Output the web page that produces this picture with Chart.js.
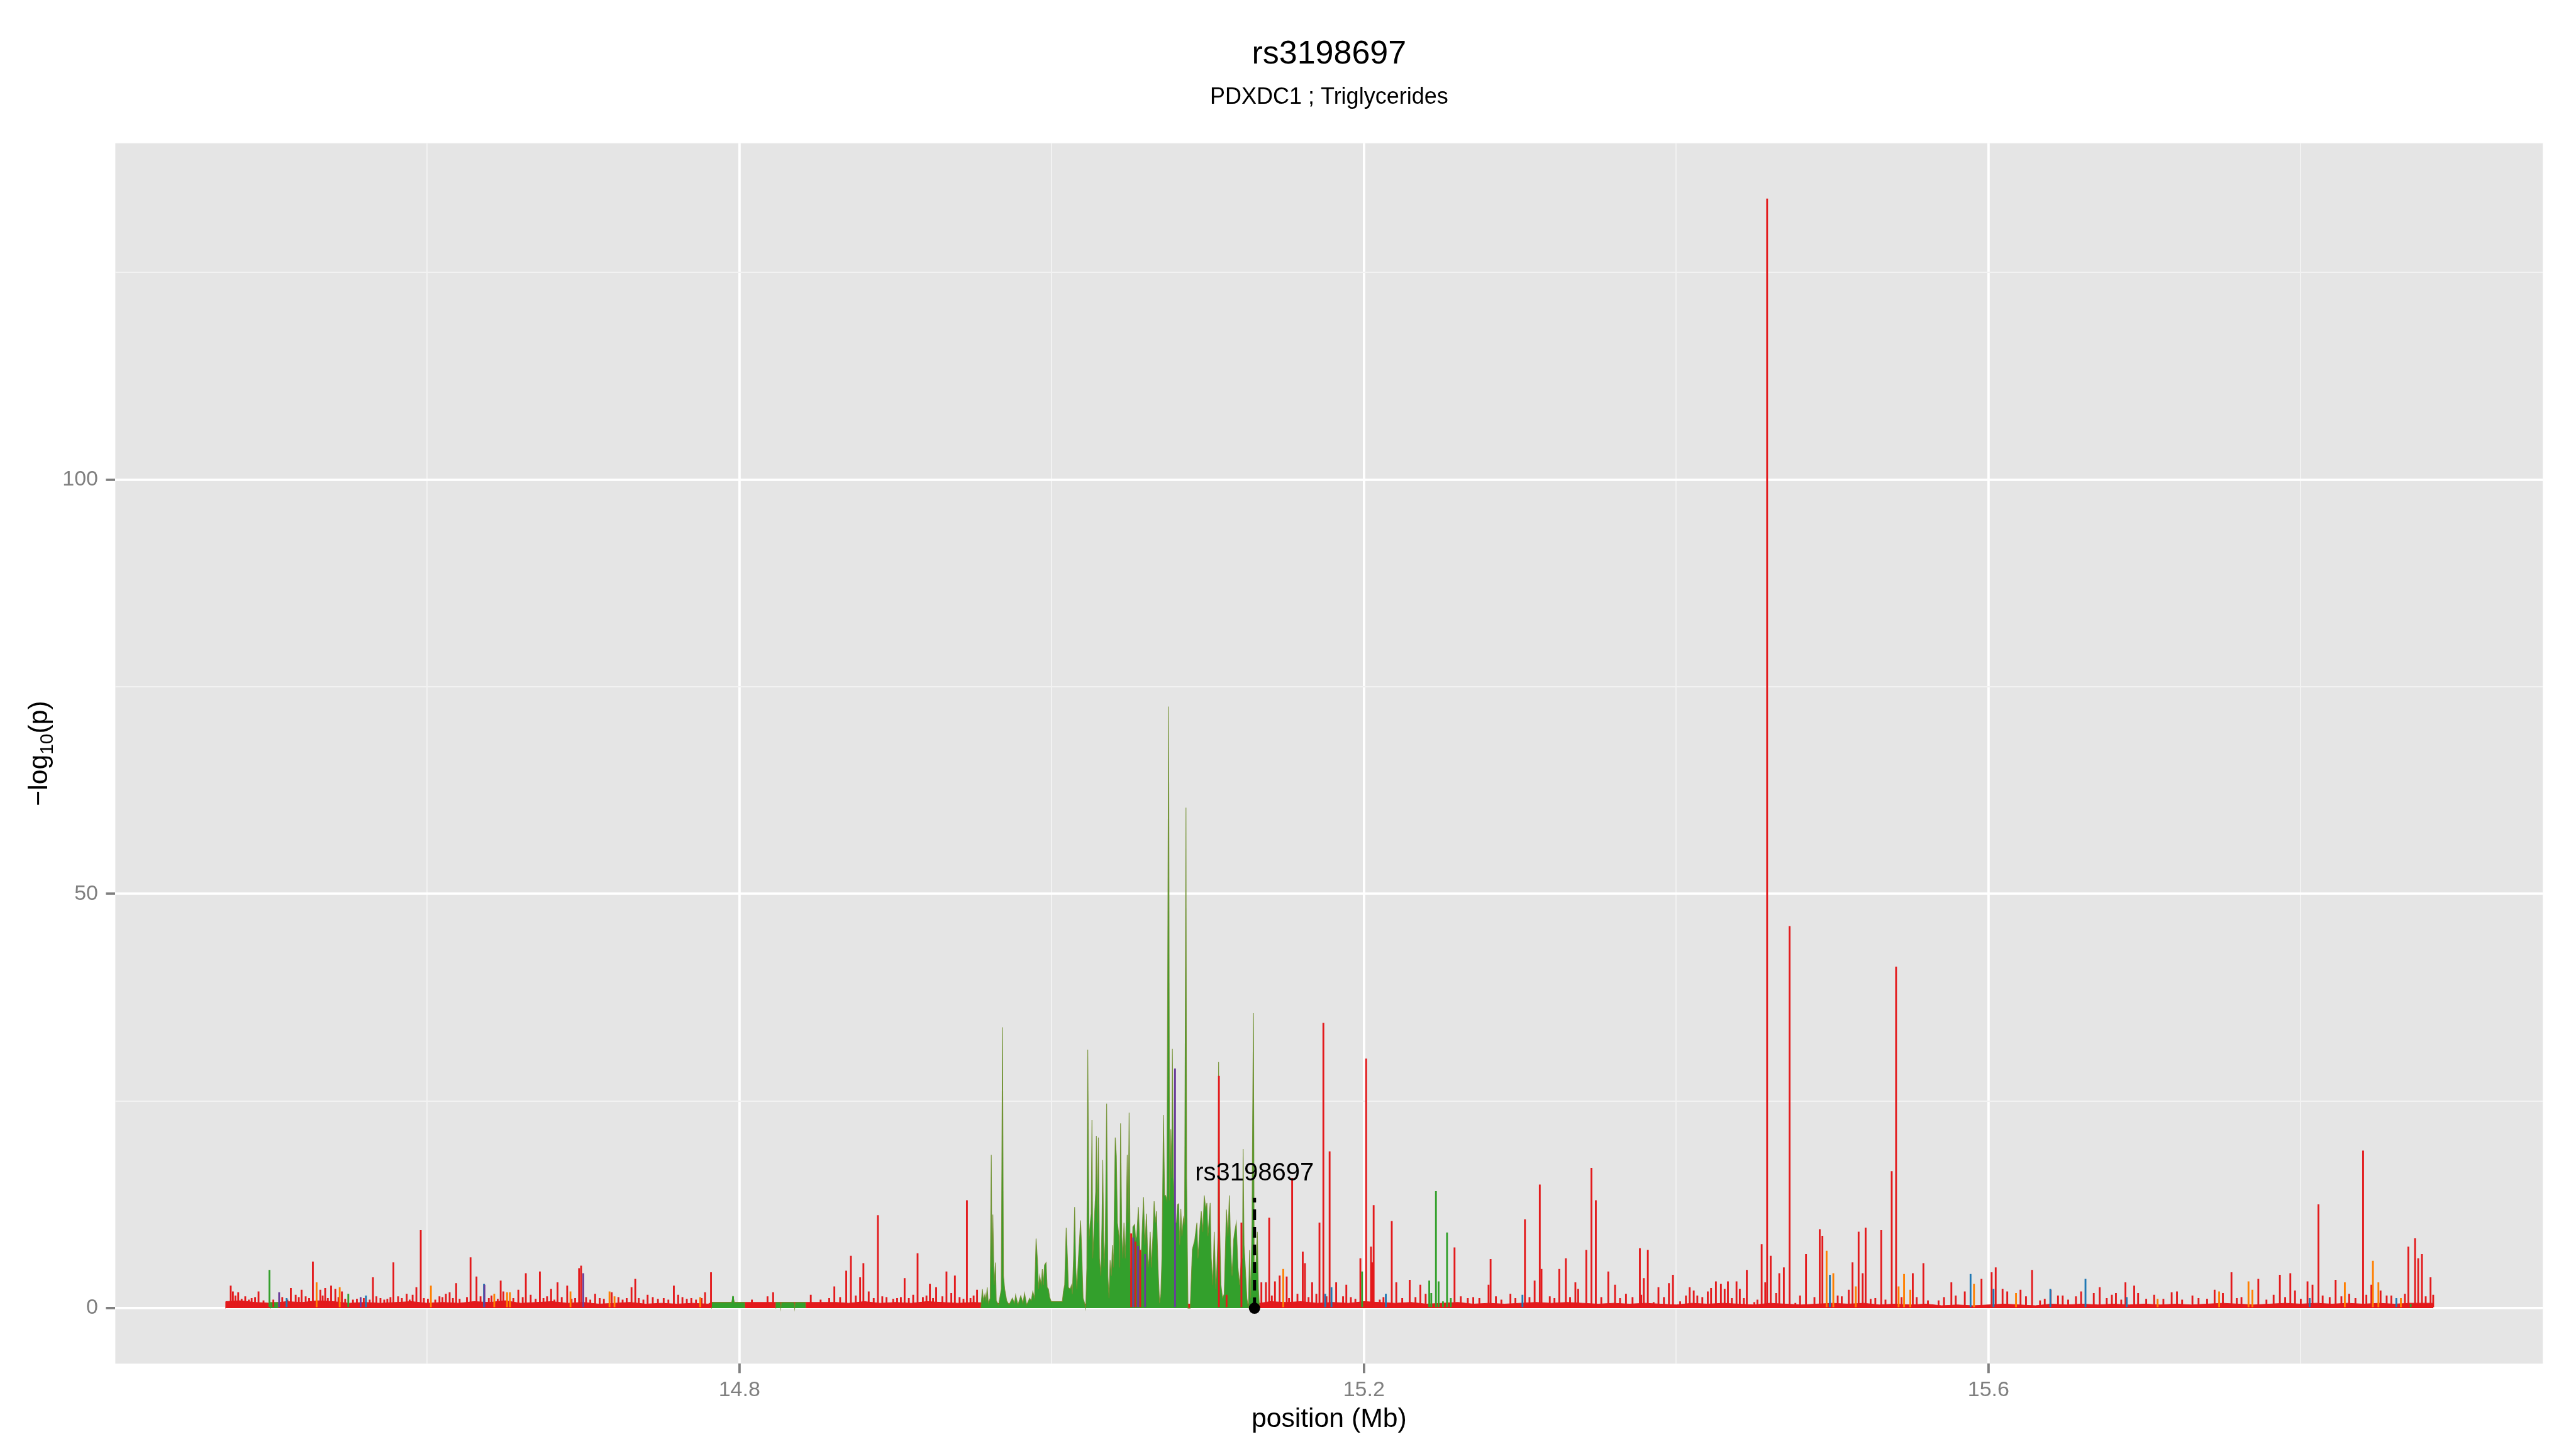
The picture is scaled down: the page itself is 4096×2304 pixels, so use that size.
<!DOCTYPE html>
<html>
<head>
<meta charset="utf-8">
<script src="https://cdn.jsdelivr.net/npm/chart.js@4.4.1/dist/chart.umd.min.js"></script>
<style>
html,body{margin:0;padding:0;background:#ffffff;}
#wrap{width:4096px;height:2304px;}
</style>
</head>
<body>
<div id="wrap"><canvas id="c" width="4096" height="2304"></canvas></div>
<script>
// ---------------- texts ----------------
const chartTitle = 'rs3198697';
const chartSubtitle = 'PDXDC1 ; Triglycerides';
const xAxisTitle = 'position (Mb)';
const yAxisTitleMain = '\u2212log';
const yAxisTitleSub = '10';
const yAxisTitleEnd = '(p)';

// ---------------- axes ----------------
const xTickValues = [14.6, 14.8, 15.0, 15.2, 15.4, 15.6, 15.8];
const xTickLabels = ['', '14.8', '', '15.2', '', '15.6', ''];
const yTickValues = [0, 25, 50, 75, 100, 125];
const yTickLabels = ['0', '', '50', '', '100', ''];
const xRange = [14.4003, 15.955];
const yRange = [-6.7, 140.6];

// ---------------- lead SNP ----------------
const leadSnp = 'rs3198697';
const leadSnpPos = 15.1299;
const leadLineTop = 13.3;
const leadLabelY = 16.5;

// ---------------- SNP values: [position (Mb), -log10(p)] ----------------
const redSnps = [
[14.4742,2.7],[14.4756,2.0],[14.4772,1.5],[14.4790,1.9],[14.4812,1.1],[14.4835,1.4],[14.4858,1.0],[14.4876,1.2],[14.4898,1.3],[14.4920,2.0],
[14.4952,0.9],[14.5015,1.0],[14.5072,1.3],[14.5105,1.0],[14.5127,2.4],[14.5158,1.6],[14.5178,1.3],[14.5196,2.2],[14.5222,1.4],[14.5244,1.2],
[14.5268,5.6],[14.5316,2.2],[14.5331,1.5],[14.5347,2.4],[14.5364,1.2],[14.5385,2.7],[14.5412,2.3],[14.5432,1.3],[14.5454,2.0],[14.5475,1.1],
[14.5525,1.0],[14.5550,1.1],[14.5594,1.2],[14.5632,1.0],[14.5653,3.7],[14.5675,1.4],[14.5701,1.2],[14.5725,1.0],[14.5745,1.1],[14.5765,1.3],
[14.5784,5.5],[14.5814,1.4],[14.5838,1.2],[14.5869,1.7],[14.5888,1.0],[14.5907,1.6],[14.5931,2.5],[14.5959,9.4],[14.5979,1.2],[14.6005,1.1],
[14.6052,1.0],[14.6079,1.4],[14.6098,1.3],[14.6120,1.7],[14.6144,1.9],[14.6165,1.2],[14.6186,3.0],[14.6208,1.1],[14.6255,1.3],[14.6278,6.1],
[14.6316,3.8],[14.6342,1.4],[14.6395,1.2],[14.6412,1.5],[14.6452,1.1],[14.6471,3.3],[14.6488,2.0],[14.6552,1.2],[14.6584,2.2],[14.6612,1.3],
[14.6632,4.2],[14.6663,1.6],[14.6695,1.1],[14.6722,4.4],[14.6745,1.2],[14.6768,1.4],[14.6794,2.3],[14.6815,1.0],[14.6835,3.1],[14.6862,1.3],
[14.6897,2.7],[14.6925,1.1],[14.6948,1.2],[14.6973,4.8],[14.6986,5.1],[14.7018,1.3],[14.7045,1.0],[14.7076,1.7],[14.7105,1.2],[14.7132,1.1],
[14.7182,1.9],[14.7225,1.3],[14.7252,1.0],[14.7278,1.2],[14.7309,2.5],[14.7333,3.5],[14.7355,1.2],[14.7385,1.0],[14.7412,1.6],[14.7445,1.3],
[14.7478,1.1],[14.7515,1.2],[14.7545,1.0],[14.7580,2.7],[14.7608,1.6],[14.7635,1.3],[14.7663,1.1],[14.7692,1.2],[14.7722,1.0],[14.7758,1.2],
[14.7780,1.9],[14.7818,4.3],[14.8080,1.0],[14.8180,1.4],[14.8216,1.9],[14.8457,1.6],[14.8520,1.0],[14.8575,1.2],[14.8608,2.6],[14.8645,1.3],
[14.8684,4.5],[14.8714,6.3],[14.8745,1.5],[14.8773,3.7],[14.8794,5.4],[14.8828,2.0],[14.8860,1.2],[14.8887,11.2],[14.8915,1.4],[14.8942,1.3],
[14.8985,1.1],[14.9010,1.2],[14.9034,1.3],[14.9058,3.6],[14.9085,1.2],[14.9113,1.6],[14.9141,6.6],[14.9175,1.3],[14.9198,1.5],[14.9220,2.9],
[14.9240,1.2],[14.9260,2.5],[14.9300,1.4],[14.9326,4.4],[14.9357,1.8],[14.9380,3.9],[14.9410,1.3],[14.9435,1.1],[14.9457,13.0],[14.9480,1.2],
[14.9500,1.5],[14.9522,2.2],
[15.0509,9.0],[15.0536,8.0],[15.0567,7.0],[15.1071,28.0],[15.1120,1.6],[15.1215,10.3],
[15.1343,3.1],[15.1372,3.1],[15.1393,10.9],[15.1410,1.5],[15.1430,3.2],[15.1460,3.9],[15.1505,3.8],[15.1520,1.2],[15.1540,15.7],[15.1574,1.7],
[15.1608,6.8],[15.1622,5.4],[15.1645,1.3],[15.1668,3.1],[15.1695,1.7],[15.1715,10.3],[15.1740,34.4],[15.1760,1.4],[15.1780,18.9],[15.1822,3.1],
[15.1866,1.4],[15.1887,2.8],[15.1916,1.3],[15.1945,1.1],[15.1977,6.0],[15.2014,30.1],[15.2045,7.4],[15.2054,5.5],[15.2062,12.4],[15.2101,1.0],
[15.2125,1.3],[15.2178,10.5],[15.2207,3.1],[15.2245,1.2],[15.2293,3.4],[15.2330,1.3],[15.2361,2.8],[15.2395,1.7],[15.2580,7.3],[15.2620,1.4],
[15.2665,1.2],[15.2700,1.3],[15.2739,1.2],[15.2798,2.8],[15.2811,5.9],[15.2845,1.4],[15.2880,1.0],[15.2938,1.7],[15.2970,1.2],[15.3031,10.7],
[15.3060,1.3],[15.3093,3.3],[15.3126,14.9],[15.3137,4.7],[15.3190,1.4],[15.3220,1.2],[15.3251,4.7],[15.3293,6.0],[15.3320,1.3],[15.3354,3.1],
[15.3372,2.3],[15.3424,7.0],[15.3457,16.9],[15.3485,13.0],[15.3520,1.3],[15.3565,4.4],[15.3608,2.8],[15.3640,1.2],[15.3678,1.7],[15.3720,1.3],
[15.3767,7.2],[15.3776,1.6],[15.3792,3.6],[15.3818,7.0],[15.3855,0.7],[15.3886,2.5],[15.3921,1.3],[15.3953,3.0],[15.3979,4.0],[15.4025,0.8],
[15.4062,1.5],[15.4086,2.5],[15.4112,2.1],[15.4135,1.5],[15.4167,1.3],[15.4202,2.0],[15.4223,2.4],[15.4254,3.2],[15.4286,2.9],[15.4310,2.3],
[15.4331,3.2],[15.4356,1.2],[15.4386,3.2],[15.4407,2.3],[15.4433,1.2],[15.4452,4.6],[15.4500,0.7],[15.4520,1.0],[15.4547,7.7],[15.4570,3.1],
[15.4582,133.9],[15.4605,6.3],[15.4640,1.8],[15.4660,4.2],[15.4689,4.9],[15.4726,46.1],[15.4763,0.6],[15.4793,1.5],[15.4831,6.5],[15.4885,1.3],
[15.4919,9.5],[15.4936,8.7],[15.5034,1.5],[15.5060,1.4],[15.5105,2.2],[15.5129,5.5],[15.5168,9.2],[15.5194,4.2],[15.5213,9.7],[15.5245,1.1],
[15.5275,1.2],[15.5313,9.4],[15.5340,1.0],[15.5380,16.5],[15.5408,41.2],[15.5443,1.3],[15.5515,4.2],[15.5540,1.3],[15.5583,5.4],[15.5612,0.9],
[15.5680,0.9],[15.5715,1.3],[15.5762,3.1],[15.5790,1.5],[15.5848,2.0],[15.5955,3.5],[15.6020,4.3],[15.6046,4.9],[15.6090,2.3],[15.6120,2.0],
[15.6205,2.2],[15.6240,1.4],[15.6279,4.6],[15.6330,0.9],[15.6360,1.1],[15.6398,2.2],[15.6445,1.5],[15.6475,1.5],[15.6510,1.0],[15.6560,1.4],
[15.6593,2.0],[15.6674,1.8],[15.6712,2.5],[15.6757,1.2],[15.6790,1.6],[15.6816,1.8],[15.6850,1.0],[15.6877,3.1],[15.6933,2.7],[15.6958,1.8],
[15.7010,1.1],[15.7061,1.6],[15.7120,1.1],[15.7173,1.9],[15.7207,2.0],[15.7240,1.0],[15.7306,1.5],[15.7345,1.2],[15.7400,1.1],[15.7448,2.2],
[15.7501,1.8],[15.7556,4.3],[15.7590,1.2],[15.7620,1.3],[15.7728,3.5],[15.7780,1.0],[15.7826,1.6],[15.7866,4.0],[15.7900,1.3],[15.7933,4.2],
[15.7963,2.1],[15.8000,1.1],[15.8043,3.2],[15.8075,2.8],[15.8113,12.5],[15.8140,1.5],[15.8185,1.3],[15.8223,3.4],[15.8260,1.4],[15.8310,1.7],
[15.8350,1.2],[15.8399,19.0],[15.8420,1.6],[15.8452,2.8],[15.8511,2.1],[15.8550,1.5],[15.8580,1.5],[15.8667,1.7],[15.8689,7.4],[15.8732,8.4],
[15.8752,6.0],[15.8776,6.5],[15.8800,1.4],[15.8831,3.7],[15.8848,1.6]
];

const greenSnps = [
[14.4990,4.6],[14.5495,1.7],[14.7959,1.4],[15.1988,4.4],[15.2418,3.3],[15.2431,1.8],[15.2461,14.1],[15.2478,3.2],[15.2506,0.8],[15.2532,9.1],
[15.2556,1.2],[15.8704,0.5]
];

const orangeSnps = [
[14.5292,3.1],[14.5440,2.5],[14.6024,2.7],[14.6430,1.7],[14.6512,1.9],[14.6530,1.9],[14.6918,2.0],[14.7168,2.0],[14.7200,1.4],[14.7749,1.3],
[15.1483,4.7],[15.4963,6.9],[15.5006,4.2],[15.5150,2.6],[15.5424,2.6],[15.5459,4.1],[15.5499,2.2],[15.5907,2.9],[15.6176,1.8],[15.7083,1.1],
[15.7477,2.0],[15.7665,3.2],[15.7690,2.2],[15.8282,3.1],[15.8462,5.7],[15.8497,3.1],[15.8641,1.2]
];

const blueSnps = [
[14.5100,1.2],[14.5608,1.5],[14.6364,2.9],[15.1752,1.7],[15.1792,2.5],[15.2140,1.7],[15.3015,1.6],[15.4984,4.0],[15.5885,4.1],[15.6032,2.3],
[15.6396,2.3],[15.6621,3.5],[15.6885,1.3],[15.8057,1.2],[15.8612,1.2]
];

const purpleSnps = [
[14.5052,1.9],[14.5574,1.3],[14.6367,2.8],[14.7000,4.2],[15.0522,8.5],[15.0553,7.5],[15.0598,6.5],[15.0790,28.9]
];

// green region (dense SNPs in LD), read as an outline; null separates blocks
const greenRegion = [
[14.4995,0],[14.4996,0.7],[14.5044,0.7],[14.5045,0],[14.5046,null],
[14.7820,0],[14.7821,0.7],[14.7950,0.7],[14.7959,1.4],[14.7968,0.7],[14.8034,0.7],[14.8035,0],[14.8036,null],
[14.8232,0],[14.8233,0.7],[14.8262,0.7],[14.8265,0],[14.8270,0.7],[14.8350,0.7],[14.8354,0],[14.8358,0.7],[14.8423,0.7],[14.8424,0],[14.8425,null],
[14.9546,0],[14.9556,2.3],[14.9563,0.9],[14.9573,1.7],[14.9580,0.9],[14.9587,2.5],[14.9594,0.6],[14.9606,1.2],[14.9613,18.5],[14.9617,4.9],
[14.9623,11.3],[14.9631,2.8],[14.9640,5.5],[14.9645,0.9],[14.9660,0.4],[14.9677,2.3],[14.9685,33.9],[14.9691,3.9],[14.9699,2.3],[14.9712,0.9],
[14.9727,0.4],[14.9748,1.2],[14.9762,0.6],[14.9769,1.6],[14.9784,0.4],[14.9802,1.5],[14.9816,0.6],[14.9826,1.8],[14.9840,0.4],[14.9859,1.2],
[14.9869,0.9],[14.9879,2.0],[14.9890,1.2],[14.9900,8.4],[14.9909,5.7],[14.9916,2.3],[14.9923,3.9],[14.9933,2.8],[14.9940,4.7],[14.9947,2.8],
[14.9954,5.2],[14.9964,5.5],[14.9971,2.5],[14.9979,2.3],[14.9987,1.3],[14.9997,0.8],[15.0068,0.8],[15.0075,2.0],[15.0083,2.8],[15.0093,9.7],
[15.0101,6.0],[15.0107,2.5],[15.0118,2.3],[15.0127,2.8],[15.0132,1.7],[15.0140,6.0],[15.0147,12.2],[15.0154,4.9],[15.0161,2.3],[15.0171,6.0],
[15.0178,8.2],[15.0185,10.6],[15.0192,7.1],[15.0201,1.2],[15.0211,0.6],[15.0218,0],[15.0225,4.9],[15.0231,31.2],[15.0239,8.2],[15.0246,10.1],
[15.0253,11.4],[15.0258,22.7],[15.0263,6.0],[15.0275,11.4],[15.0282,14.1],[15.0286,20.8],[15.0292,10.3],[15.0299,20.6],[15.0306,6.0],[15.0315,3.9],
[15.0322,10.3],[15.0327,17.9],[15.0335,4.9],[15.0343,8.2],[15.0352,24.7],[15.0360,3.9],[15.0367,1.2],[15.0374,5.8],[15.0382,3.9],[15.0389,7.6],
[15.0396,4.9],[15.0407,20.6],[15.0414,18.4],[15.0421,10.3],[15.0431,8.7],[15.0436,4.9],[15.0441,22.3],[15.0449,8.7],[15.0456,6.0],[15.0463,10.3],
[15.0471,6.0],[15.0477,10.3],[15.0484,18.5],[15.0490,10.3],[15.0496,23.6],[15.0503,4.9],[15.0510,2.8],[15.0520,9.8],[15.0531,10.1],[15.0538,8.2],
[15.0545,8.7],[15.0555,12.2],[15.0564,7.6],[15.0571,4.9],[15.0578,8.7],[15.0588,13.4],[15.0597,7.6],[15.0607,11.4],[15.0617,4.9],[15.0624,6.0],
[15.0631,9.2],[15.0638,4.9],[15.0648,8.7],[15.0656,12.9],[15.0664,10.3],[15.0671,11.7],[15.0681,4.9],[15.0691,0.6],[15.0699,1.7],[15.0706,6.0],
[15.0716,23.3],[15.0723,13.6],[15.0730,13.6],[15.0738,13.0],[15.0745,51.7],[15.0749,72.6],[15.0755,13.0],[15.0763,21.6],[15.0769,15.7],[15.0773,31.3],
[15.0780,15.7],[15.0790,10.3],[15.0799,10.3],[15.0806,12.5],[15.0813,12.6],[15.0820,7.6],[15.0827,12.0],[15.0834,8.7],[15.0844,10.9],[15.0851,10.3],
[15.0856,36.4],[15.0860,60.4],[15.0864,15.7],[15.0873,0],[15.0887,0],[15.0901,7.1],[15.0916,8.2],[15.0930,10.3],[15.0937,6.0],[15.0947,9.2],
[15.0958,11.7],[15.0968,9.2],[15.0977,13.6],[15.0987,11.9],[15.0994,12.7],[15.1001,8.7],[15.1015,12.7],[15.1022,6.0],[15.1032,2.8],[15.1041,9.2],
[15.1051,2.3],[15.1058,4.9],[15.1065,8.7],[15.1069,29.7],[15.1075,10.3],[15.1084,2.8],[15.1094,1.2],[15.1105,1.7],[15.1119,11.9],[15.1129,8.7],
[15.1138,13.6],[15.1146,7.6],[15.1155,3.9],[15.1165,8.2],[15.1172,9.2],[15.1182,10.3],[15.1193,4.9],[15.1203,2.8],[15.1215,6.0],[15.1222,6.0],
[15.1226,19.2],[15.1232,7.6],[15.1240,4.9],[15.1250,1.2],[15.1260,0],[15.1267,7.0],[15.1274,1.2],[15.1283,10.3],[15.1287,22.7],[15.1292,35.6],
[15.1297,4.9],[15.1307,4.9],[15.1317,9.2],[15.1324,2.3],[15.1331,0]
];

// low-level background of the red series
const redBackground = [
[14.4708,0],[14.4710,0.8],[14.4800,0.9],[14.4900,0.7],[14.5000,0.6],[14.5100,0.8],[14.5200,0.7],[14.5300,0.9],[14.5400,0.8],[14.5500,0.6],
[14.5600,0.7],[14.5700,0.6],[14.5800,0.7],[14.5900,0.8],[14.6000,0.6],[14.6100,0.7],[14.6200,0.6],[14.6300,0.8],[14.6400,0.7],[14.6500,0.9],
[14.6600,0.6],[14.6700,0.7],[14.6800,0.8],[14.6900,0.6],[14.7000,0.7],[14.7100,0.5],[14.7200,0.6],[14.7300,0.7],[14.7400,0.5],[14.7500,0.6],
[14.7600,0.5],[14.7700,0.6],[14.7800,0.5],[14.7820,0.7],[14.8034,0.7],[14.8232,0.7],[14.8423,0.7],[14.8620,0.7],[14.8700,0.6],[14.8800,0.8],
[14.8900,0.6],[14.9000,0.7],[14.9100,0.6],[14.9200,0.8],[14.9300,0.7],[14.9400,0.6],[14.9500,0.7],[14.9600,0.6],[14.9800,0.5],[15.0000,0.5],
[15.0500,0.5],[15.1000,0.5],[15.1300,0.5],[15.1400,0.8],[15.1500,0.7],[15.1600,0.8],[15.1700,0.6],[15.1800,0.7],[15.1900,0.6],[15.2000,0.8],
[15.2100,0.7],[15.2200,0.6],[15.2300,0.7],[15.2400,0.5],[15.2500,0.6],[15.2600,0.7],[15.2700,0.5],[15.2800,0.6],[15.2900,0.5],[15.3000,0.6],
[15.3100,0.7],[15.3200,0.6],[15.3300,0.7],[15.3400,0.6],[15.3500,0.5],[15.3600,0.6],[15.3700,0.5],[15.3800,0.6],[15.3900,0.5],[15.4000,0.4],
[15.4100,0.6],[15.4200,0.5],[15.4300,0.6],[15.4400,0.5],[15.4500,0.4],[15.4600,0.6],[15.4700,0.5],[15.4800,0.4],[15.4900,0.5],[15.5000,0.6],
[15.5100,0.5],[15.5200,0.6],[15.5300,0.4],[15.5400,0.5],[15.5500,0.4],[15.5600,0.5],[15.5700,0.3],[15.5800,0.4],[15.5900,0.3],[15.6000,0.4],
[15.6100,0.5],[15.6200,0.4],[15.6300,0.3],[15.6400,0.5],[15.6500,0.4],[15.6600,0.5],[15.6700,0.4],[15.6800,0.5],[15.6900,0.4],[15.7000,0.5],
[15.7100,0.4],[15.7200,0.5],[15.7300,0.4],[15.7400,0.5],[15.7500,0.6],[15.7600,0.5],[15.7700,0.4],[15.7800,0.5],[15.7900,0.6],[15.8000,0.5],
[15.8100,0.6],[15.8200,0.5],[15.8300,0.6],[15.8400,0.5],[15.8500,0.6],[15.8600,0.5],[15.8700,0.6],[15.8800,0.6],[15.8845,0.6],[15.8846,0]
];

// ---------------- styling ----------------
const S = 0.853;
const FONT = '"Liberation Sans", Arial, Helvetica, sans-serif';
const COL = {red:'#E31A1C', green:'#33A02C', orange:'#FF7F00', blue:'#1F78B4', purple:'#6A3D9A'};
const PANEL = {left:215*S, top:267*S, right:4740*S, bottom:2542*S};

const toXY = arr => arr.map(p => ({x:p[0], y:p[1]}));
const isMajorX = v => Math.round(v*10) % 4 === 0;
const isMajorY = v => Math.round(v) % 50 === 0;
const lookup = (vals, labels, v) => { const i = vals.findIndex(t => Math.abs(t - v) < 1e-6); return i >= 0 ? labels[i] : ''; };

function barSet(data, color, order){
  return {type:'bar', data: toXY(data), backgroundColor: color, borderWidth: 0,
          barThickness: 2.2, grouped: false, order: order};
}

const decor = {
  id: 'decor',
  beforeDraw(chart){
    const ctx = chart.ctx, a = chart.chartArea;
    ctx.save();
    ctx.fillStyle = '#FFFFFF';
    ctx.fillRect(0, 0, chart.width, chart.height);
    ctx.fillStyle = '#E5E5E5';
    ctx.fillRect(a.left, a.top, a.right - a.left, a.bottom - a.top);
    ctx.restore();
  },
  afterDatasetsDraw(chart){
    const ctx = chart.ctx, xs = chart.scales.x, ys = chart.scales.y;
    const fs = 40;
    ctx.save();
    ctx.fillStyle = '#000000';
    ctx.font = fs + 'px ' + FONT;
    ctx.textAlign = 'center';
    ctx.textBaseline = 'alphabetic';
    ctx.fillText(leadSnp, xs.getPixelForValue(leadSnpPos), ys.getPixelForValue(leadLabelY) + fs*0.358);
    ctx.restore();
  },
  afterDraw(chart){
    const ctx = chart.ctx, a = chart.chartArea;
    const cx = (a.left + a.right) / 2;
    ctx.save();
    ctx.fillStyle = '#000000';
    ctx.textAlign = 'center';
    ctx.textBaseline = 'alphabetic';
    ctx.font = '52px ' + FONT;
    ctx.fillText(chartTitle, cx, 118*S);
    ctx.font = '36px ' + FONT;
    ctx.fillText(chartSubtitle, cx, 193*S);
    ctx.font = '42.7px ' + FONT;
    ctx.fillText(xAxisTitle, cx, 2660*S);
    // y axis title with subscript
    const fMain = 42.7, fSub = 30;
    ctx.font = fMain + 'px ' + FONT; const w1 = ctx.measureText(yAxisTitleMain).width; const w3 = ctx.measureText(yAxisTitleEnd).width;
    ctx.font = fSub + 'px ' + FONT; const w2 = ctx.measureText(yAxisTitleSub).width;
    const tot = w1 + w2 + w3;
    ctx.translate(88*S, (a.top + a.bottom)/2);
    ctx.rotate(-Math.PI/2);
    ctx.textAlign = 'left';
    let u = -tot/2;
    ctx.font = fMain + 'px ' + FONT; ctx.fillText(yAxisTitleMain, u, 0); u += w1;
    ctx.font = fSub + 'px ' + FONT; ctx.fillText(yAxisTitleSub, u, fMain*0.22); u += w2;
    ctx.font = fMain + 'px ' + FONT; ctx.fillText(yAxisTitleEnd, u, 0);
    ctx.restore();
  }
};

const gridColorX = c => (c.tick && isMajorX(c.tick.value)) ? '#FFFFFF' : '#F2F2F2';
const gridWidthX = c => (c.tick && isMajorX(c.tick.value)) ? 3.8 : 1.9;
const tickColorX = c => (c.tick && isMajorX(c.tick.value)) ? '#7F7F7F' : 'rgba(0,0,0,0)';
const gridColorY = c => (c.tick && isMajorY(c.tick.value)) ? '#FFFFFF' : '#F2F2F2';
const gridWidthY = c => (c.tick && isMajorY(c.tick.value)) ? 3.8 : 1.9;
const tickColorY = c => (c.tick && isMajorY(c.tick.value)) ? '#7F7F7F' : 'rgba(0,0,0,0)';

new Chart(document.getElementById('c'), {
  type: 'bar',
  data: {
    datasets: [
      {type:'scatter', data:[{x:leadSnpPos, y:0}], pointRadius: 9, pointBackgroundColor:'#000000', pointBorderWidth:0, order:0},
      {type:'line', data:[{x:leadSnpPos, y:0},{x:leadSnpPos, y:leadLineTop}], borderColor:'#000000', borderWidth:5,
       borderDash:[17,11], pointRadius:0, fill:false, order:1},
      barSet(purpleSnps, COL.purple, 2),
      barSet(blueSnps, COL.blue, 3),
      barSet(orangeSnps, COL.orange, 4),
      barSet(greenSnps, COL.green, 5),
      barSet(redSnps, COL.red, 6),
      {type:'line', data: toXY(greenRegion), borderColor:'rgba(110,140,40,0.85)', borderWidth:1.2, backgroundColor: COL.green,
       fill:'origin', pointRadius:0, tension:0, spanGaps:false, order:7},
      {type:'line', data: toXY(redBackground), borderColor: COL.red, borderWidth:1, backgroundColor: COL.red,
       fill:'origin', pointRadius:0, tension:0, order:8}
    ]
  },
  options: {
    responsive: false,
    devicePixelRatio: 1,
    animation: false,
    events: [],
    layout: {padding: {left: 0, top: PANEL.top, right: 4096 - PANEL.right, bottom: 0}},
    plugins: {legend: {display:false}, tooltip: {enabled:false}, title:{display:false}},
    scales: {
      x: {
        type: 'linear', min: xRange[0], max: xRange[1], offset: false,
        border: {display:false},
        grid: {offset: false, color: gridColorX, lineWidth: gridWidthX, tickColor: tickColorX, tickWidth: 3.8, tickLength: 15, drawTicks: true},
        ticks: {autoSkip:false, maxRotation:0, minRotation:0, padding: 7, color:'#7F7F7F',
                font:{family: FONT, size: 34}, callback: v => lookup(xTickValues, xTickLabels, v)},
        afterBuildTicks: s => { s.ticks = xTickValues.map(v => ({value: v})); },
        afterFit: s => { s.height = 2304 - PANEL.bottom; }
      },
      y: {
        type: 'linear', min: yRange[0], max: yRange[1],
        border: {display:false},
        grid: {offset: false, color: gridColorY, lineWidth: gridWidthY, tickColor: tickColorY, tickWidth: 3.8, tickLength: 15, drawTicks: true},
        ticks: {autoSkip:false, padding: 12.4, color:'#7F7F7F',
                font:{family: FONT, size: 34}, callback: v => lookup(yTickValues, yTickLabels, v)},
        afterBuildTicks: s => { s.ticks = yTickValues.map(v => ({value: v})); },
        afterFit: s => { s.width = PANEL.left; }
      }
    }
  },
  plugins: [decor]
});
</script>
</body>
</html>
